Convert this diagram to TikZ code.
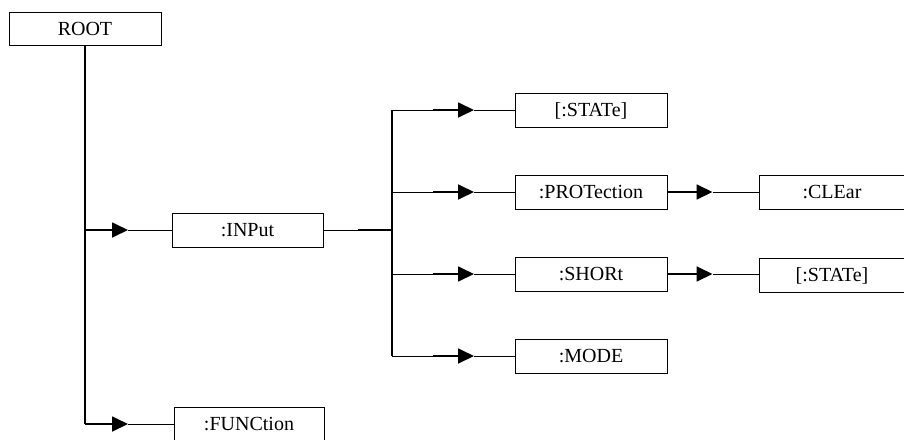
\documentclass[tikz,border=0pt]{standalone}
\usepackage{fontspec}
\setmainfont{Liberation Serif}
\usetikzlibrary{arrows.meta,calc}
\begin{document}
\begin{tikzpicture}[x=1pt,y=-1pt,
  box/.style={draw=black,line width=1pt,rectangle,minimum height=34pt,inner sep=0pt,
    text height=13.2pt,text depth=0pt,font=\fontsize{20}{23}\selectfont},
  trunk/.style={line width=1.8pt},
  lead/.style={line width=1.8pt,-{Triangle[length=16pt,width=15pt]}},
  tail/.style={line width=1pt}]
\useasboundingbox (0,0) rectangle (904,439);
\clip (0,0) rectangle (904,439);
\fill[white] (0,0) rectangle (904,439);
% boxes
\node[box,minimum width=152pt,minimum height=33pt] (root) at (85,28.5) {ROOT};
\node[box,minimum width=151pt] (input) at (247.5,230) {:INPut};
\node[box,minimum width=150pt] (func) at (249,424) {:FUNCtion};
\node[box,minimum width=152pt] (state) at (591,110) {[:STATe]};
\node[box,minimum width=152pt] (prot) at (591,192) {:PROTection};
\node[box,minimum width=152pt] (short) at (591,274) {:SHORt};
\node[box,minimum width=152pt] (mode) at (591,356) {:MODE};
\node[box,minimum width=146pt] (clear) at (832,192) {:CLEar};
\node[box,minimum width=146pt] (state2) at (832,275) {[:STATe]};
% trunk from ROOT
\coordinate (jr1) at (root.south |- input.west);
\coordinate (jr2) at (root.south |- func.west);
\draw[trunk] (root.south) -- (jr2);
\draw[lead] (jr1) -- ++(43,0) coordinate (ar1);
\draw[tail] (ar1) -- (input.west);
\draw[lead] (jr2) -- ++(43,0) coordinate (ar2);
\draw[tail] (ar2) -- (func.west);
% trunk from INPut
\coordinate (ji) at (392,230);
\coordinate (ji0) at (ji |- state.west);
\coordinate (ji1) at (ji |- prot.west);
\coordinate (ji2) at (ji |- short.west);
\coordinate (ji3) at (ji |- mode.west);
\draw[tail] (input.east) -- ++(34,0) coordinate (mi);
\draw[trunk] (mi) -- (ji);
\draw[trunk] (ji0) -- (ji3);
\foreach \j/\t in {ji0/state,ji1/prot,ji2/short,ji3/mode}{
  \draw[tail] (\j) -- ++(41,0) coordinate (b-\t);
  \draw[lead] (b-\t) -- ++(41,0) coordinate (a-\t);
  \draw[tail] (a-\t) -- (\t.west);
}
% third level
\draw[lead] (prot.east) -- ++(45,0) coordinate (ap);
\draw[tail] (ap) -- (clear.west);
\draw[lead] (short.east) -- ++(45,0) coordinate (as);
\draw[tail] (as) -- (state2.west |- short.east);
\end{tikzpicture}
\end{document}
